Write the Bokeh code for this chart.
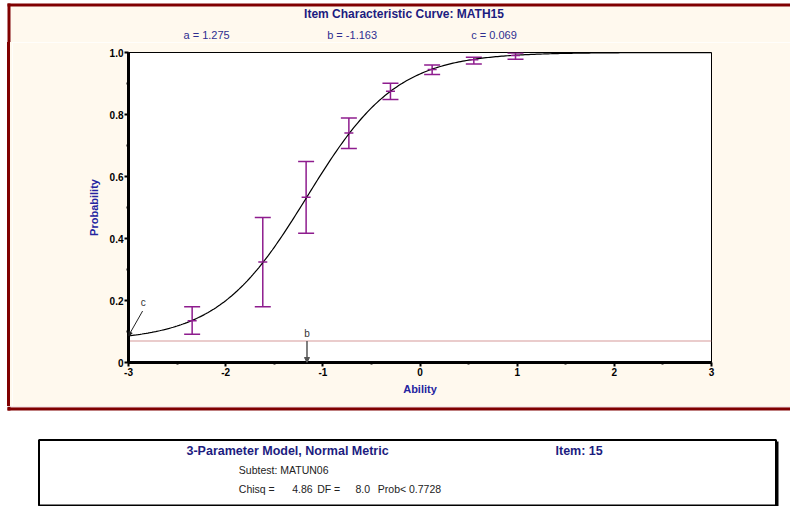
import numpy as np
from bokeh.plotting import figure
from bokeh.layouts import column, row
from bokeh.models import (ColumnDataSource, Whisker, TeeHead, Range1d, FixedTicker,
                          Label, Arrow, NormalHead, Div)
from bokeh.embed import file_html
from bokeh.resources import INLINE

# ---------------- data ----------------
item_name = "MATH15"
item_number = 15
subtest = "MATUN06"
model_text = "3-Parameter Model, Normal Metric"
a_param = 1.275
b_param = -1.163
c_param = 0.069
D_scale = 1.7          # normal metric
chisq = 4.86
dof = 8.0
prob = 0.7728

obs_ability = [-2.345, -1.618, -1.172, -0.732, -0.304, 0.125, 0.554, 0.983]
obs_prop = [0.135, 0.324, 0.533, 0.740, 0.875, 0.945, 0.977, 0.990]
obs_upper = [0.180, 0.468, 0.648, 0.789, 0.901, 0.960, 0.985, 0.998]
obs_lower = [0.091, 0.180, 0.417, 0.690, 0.848, 0.929, 0.963, 0.978]

x_ticks = [-3, -2, -1, 0, 1, 2, 3]
x_tick_labels = ["-3", "-2", "-1", "0", "1", "2", "3"]
x_minor = [-2.5, -1.5, -0.5, 0.5, 1.5, 2.5]
y_ticks = [0, 0.2, 0.4, 0.6, 0.8, 1.0]
y_tick_labels = ["0", "0.2", "0.4", "0.6", "0.8", "1.0"]
y_minor = [0.1, 0.3, 0.5, 0.7, 0.9]

# model ICC from the item parameters shown on the chart
theta = np.linspace(-3, 3, 301)
icc = c_param + (1 - c_param) / (1 + np.exp(-D_scale * a_param * (theta - b_param)))

# ---------------- styles ----------------
FONT = "Liberation Sans"
NAVY = "#1C1C80"
BLUE = "#2424A0"
PARAM = "#2E2E90"
PURPLE = "#8E1C8E"
CREAM = "#FFF9EE"
DARKRED = "#800000"
TXT = "#222222"

W = 790
TOP_H = 42
MID_H = 364
BOT_H = 100
LEFT_W = 12


def blank(w, h, bg):
    f = figure(width=w, height=h, x_range=Range1d(0, w), y_range=Range1d(h, 0),
               output_backend="svg", toolbar_location=None,
               x_axis_location=None, y_axis_location=None, min_border=0)
    f.background_fill_color = bg
    f.border_fill_color = bg
    f.outline_line_color = None
    f.grid.visible = False
    return f


def add_text(f, x, y, text, size, color, bold=False, align="left"):
    f.add_layout(Label(x=x, y=y, text=text, text_font=FONT, text_font_size=size,
                       text_font_style="bold" if bold else "normal",
                       text_color=color, text_align=align,
                       text_baseline="alphabetic"))


# ---------------- top strip: title + parameters ----------------
top = blank(W, TOP_H, "white")
top.quad(left=[10], right=[W], top=[6], bottom=[TOP_H], fill_color=CREAM, line_color=None)
top.line([7, W], [4.5, 4.5], line_color=DARKRED, line_width=3)
top.line([8.5, 8.5], [3, TOP_H], line_color=DARKRED, line_width=3)
add_text(top, 403.5, 13.8, f"Item Characteristic Curve: {item_name}", "12px", NAVY, True, "center")
add_text(top, 183, 34.3, f"a =  {a_param:.3f}", "11px", PARAM)
add_text(top, 326.7, 34.3, f"b = {b_param:.3f}", "11px", PARAM)
add_text(top, 470.7, 34.3, f"c =  {c_param:.3f}", "11px", PARAM)

# ---------------- left strip: frame edge (plain element, no text) ----------------
left = Div(text="", width=LEFT_W, height=MID_H,
           styles={"background": f"linear-gradient(to right, white 0px, white 7px, "
                                 f"{DARKRED} 7px, {DARKRED} 10px, {CREAM} 10px)",
                   "margin": "0", "padding": "0"})

# ---------------- main plot ----------------
p = figure(width=W - LEFT_W, height=MID_H, x_range=Range1d(-3, 3), y_range=Range1d(0, 1),
           output_backend="svg", toolbar_location=None,
           min_border_left=116, min_border_right=79, min_border_top=10,
           min_border_bottom=44)
p.border_fill_color = CREAM
p.background_fill_color = "white"
p.outline_line_color = "black"
p.outline_line_width = 1
p.grid.visible = False

for ax in (p.xaxis[0], p.yaxis[0]):
    ax.axis_line_width = 3
    ax.axis_line_color = "black"
    ax.major_tick_line_width = 2
    ax.major_tick_in = 0
    ax.major_tick_out = 4
    ax.minor_tick_in = 0
    ax.minor_tick_out = 2
    ax.minor_tick_line_width = 2
    ax.major_label_text_font = FONT
    ax.major_label_text_font_style = "bold"
    ax.major_label_text_font_size = "10px"
    ax.major_label_text_color = "black"
    ax.axis_label_text_font = FONT
    ax.axis_label_text_font_style = "bold"
    ax.axis_label_text_font_size = "11px"
    ax.axis_label_text_color = BLUE

p.xaxis.ticker = FixedTicker(ticks=x_ticks, minor_ticks=x_minor)
p.xaxis.major_label_overrides = dict(zip(x_ticks, x_tick_labels))
p.xaxis.major_label_standoff = 1
p.xaxis.axis_label = "Ability"
p.xaxis.axis_label_standoff = 4
p.yaxis.ticker = FixedTicker(ticks=y_ticks, minor_ticks=y_minor)
p.yaxis.major_label_overrides = dict(zip(y_ticks, y_tick_labels))
p.yaxis.major_label_standoff = 1
p.yaxis.axis_label = "Probability"
p.yaxis.axis_label_standoff = 7

# lower asymptote c
p.line([-3, 3], [c_param, c_param], line_color="#C87878", line_width=1.5,
       line_dash="1 1")

# model curve
p.line(theta, icc, line_color="black", line_width=1.2)

# observed proportions with error bars
src = ColumnDataSource(dict(x=obs_ability, y=obs_prop, upper=obs_upper, lower=obs_lower))
p.add_layout(Whisker(base="x", upper="upper", lower="lower", source=src,
                     line_color=PURPLE, line_width=1.5,
                     upper_head=TeeHead(size=16, line_color=PURPLE, line_width=1.5),
                     lower_head=TeeHead(size=16, line_color=PURPLE, line_width=1.5)))
p.scatter("x", "y", source=src, marker="dash", size=9, line_color=PURPLE,
          line_width=1.5)

# b arrow and label
p.add_layout(Arrow(end=NormalHead(size=5, fill_color="#555555", line_color="#555555"),
                   x_start=b_param, y_start=c_param, x_end=b_param, y_end=0,
                   line_color="#555555", line_width=1.5))
p.add_layout(Label(x=b_param, y=0.0945, text="b", text_align="center",
                   text_baseline="alphabetic", text_font=FONT,
                   text_font_size="10px", text_color="#333333"))
# c arrow and label
p.add_layout(Arrow(end=NormalHead(size=4, fill_color="#222222", line_color="#222222"),
                   x_start=-2.855, y_start=0.166, x_end=-3, y_end=float(icc[0]),
                   line_color="#222222", line_width=1))
p.add_layout(Label(x=-2.848, y=0.1935, text="c", text_align="center",
                   text_baseline="alphabetic", text_font=FONT,
                   text_font_size="10px", text_color="#333333"))

# ---------------- bottom strip: frame bottom + info box ----------------
bot = blank(W, BOT_H, "white")
bot.quad(left=[10], right=[W], top=[0], bottom=[1], fill_color="#D8A8A8", line_color=None)
bot.line([7, W], [2.5, 2.5], line_color=DARKRED, line_width=3)
bot.line([8.5, 8.5], [0, 4], line_color=DARKRED, line_width=3)
bot.quad(left=[40], right=[778], top=[35], bottom=[102], fill_color="black", line_color=None)
bot.quad(left=[38.5], right=[775.5], top=[33.5], bottom=[99], fill_color="white",
         line_color="black", line_width=2)
add_text(bot, 186, 44, model_text, "12.5px", NAVY, True)
add_text(bot, 555, 44, f"Item: {item_number}", "12.5px", NAVY, True)
add_text(bot, 238.3, 63.7, f"Subtest:  {subtest}", "10.5px", TXT)
add_text(bot, 238.3, 82.7, "Chisq =", "10.5px", TXT)
add_text(bot, 291.7, 82.7, f"{chisq:.2f}", "10.5px", TXT)
add_text(bot, 316.7, 82.7, "DF =", "10.5px", TXT)
add_text(bot, 355, 82.7, f"{dof:.1f}", "10.5px", TXT)
add_text(bot, 377.3, 82.7, f"Prob< {prob:.4f}", "10.5px", TXT)

layout = column(top, row(left, p, spacing=0), bot, spacing=0)
open("out.html", "w").write(file_html(layout, INLINE))
